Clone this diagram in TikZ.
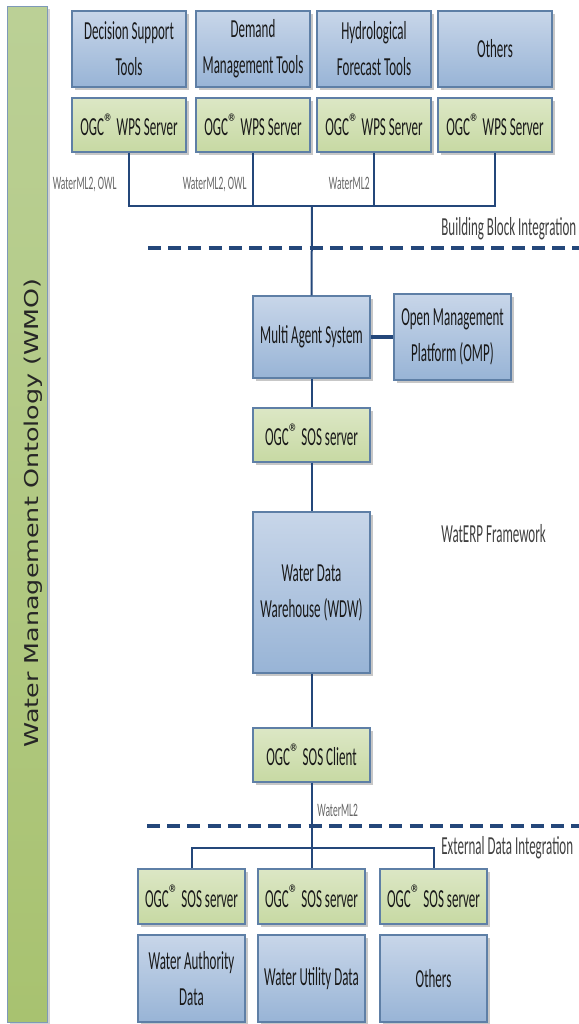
\documentclass[tikz,border=0pt]{standalone}
\usepackage{fontspec}
\setmainfont{Carlito}[FakeStretch=0.5]
\newfontfamily\barfont{DejaVu Sans}
\usetikzlibrary{shadows}
\definecolor{edge}{HTML}{5E7FA6}
\definecolor{bluetop}{HTML}{C8D6E9}
\definecolor{bluebot}{HTML}{98B4D6}
\definecolor{greentop}{HTML}{DCE7C5}
\definecolor{greenbot}{HTML}{C7D9A3}
\definecolor{bartop}{HTML}{BBD096}
\definecolor{barbot}{HTML}{A8C270}
\definecolor{wire}{HTML}{24477A}
\tikzset{
  shade box/.style={draw=edge,line width=.6pt,align=center,inner sep=1pt,
    font=\fontsize{13}{18}\selectfont,text=black!90,
    drop shadow={shadow xshift=1.6pt,shadow yshift=-1.6pt,fill=black,opacity=.22}},
  bluebox/.style={shade box,top color=bluetop,bottom color=bluebot},
  greenbox/.style={shade box,top color=greentop,bottom color=greenbot},
  wirelink/.style={draw=wire,line width=1pt},
  tier/.style={draw=wire,line width=1.6pt,dash pattern=on 6.5pt off 3.6pt},
  fmtlabel/.style={font=\fontsize{9.5}{11}\selectfont,text=black!60,inner sep=1pt},
  tierlabel/.style={font=\fontsize{13}{15}\selectfont,text=black!75,anchor=west,inner sep=0pt}
}
\newcommand{\ogcmark}{OGC\raisebox{.45ex}{\fontsize{12}{12}\selectfont\scalebox{1.6}[1]{®}}}

\begin{document}
\begin{tikzpicture}[x=0.5pt,y=-0.5pt]
  \useasboundingbox (0,0) rectangle (579,1024);
  % ontology bar
  \draw[draw=edge!80,line width=.5pt,top color=bartop,bottom color=barbot,
    drop shadow={shadow xshift=1.6pt,shadow yshift=-1.6pt,fill=black,opacity=.18}]
    (7,6) rectangle (47,1022);
  \node[rotate=90,font=\barfont\fontsize{12.7}{14}\selectfont,text=black!85] (wmo) at (33,513)
    {\scalebox{1}[.75]{Water Management Ontology (WMO)}};
  % building blocks
  \foreach \i/\cx/\tool/\srv in {1/129/{Decision Support\\Tools}/{\ogcmark{}  WPS Server},
      2/253/{Demand\\Management Tools}/{\ogcmark{} WPS Server},
      3/374/{Hydrological\\Forecast Tools}/{\ogcmark{}  WPS Server},
      4/495/{Others}/{\ogcmark{}  WPS Server}} {
    \node[bluebox,minimum width=57pt,minimum height=38pt] (t\i) at (\cx,49) {\tool};
    \node[greenbox,minimum width=57pt,minimum height=27pt] (w\i) at (\cx,125) {\srv};
  }
  \coordinate (topbus) at (312,206);
  \draw[wirelink] (w1.south) |- (topbus) -| (w4.south);
  \draw[wirelink] (w2.south) -- (w2.south |- topbus);
  \draw[wirelink] (w3.south) -- (w3.south |- topbus);
  \node[fmtlabel,anchor=east] (f1) at (119,185) {WaterML2, OWL};
  \node[fmtlabel,anchor=east] (f2) at (249,185) {WaterML2, OWL};
  \node[fmtlabel,anchor=east] (f3) at (372,183) {WaterML2};
  \node[tierlabel] (bbi) at (441,229) {Building Block Integration};
  \coordinate (d1a) at (148,248); \coordinate (d1b) at (579,248);
  \draw[tier] (d1a) -- (d1b);
  % framework core
  \node[bluebox,minimum width=58.5pt,minimum height=41pt] (mas) at (311.5,337) {Multi Agent System};
  \node[bluebox,minimum width=58.5pt,minimum height=43pt] (omp) at (452.5,337) {Open Management\\Platform (OMP)};
  \node[greenbox,minimum width=58.5pt,minimum height=27pt] (sosa) at (311.5,435) {\ogcmark{} SOS server};
  \node[bluebox,minimum width=58.5pt,minimum height=80.5pt] (wdw) at (311.5,592.5) {Water Data\\Warehouse (WDW)};
  \node[greenbox,minimum width=58.5pt,minimum height=27pt] (sosc) at (311.5,755) {\ogcmark{} SOS Client};
  \node[tierlabel] (erp) at (441,534) {WatERP Framework};
  \draw[wirelink] (topbus) -- (mas.north);
  \draw[draw=wire,line width=1.6pt] (mas.east) -- (omp.west);
  \draw[wirelink] (mas.south) -- (sosa.north);
  \draw[wirelink] (sosa.south) -- (wdw.north);
  \draw[wirelink] (wdw.south) -- (sosc.north);
  % external data
  \node[fmtlabel,anchor=west] (f4) at (315,810) {WaterML2};
  \coordinate (d2a) at (147,826); \coordinate (d2b) at (579,826);
  \draw[tier] (d2a) -- (d2b);
  \node[tierlabel] (edi) at (441,848) {External Data Integration};
  \foreach \i/\cx/\src in {1/191.5/{Water Authority\\Data},2/311.5/{Water Utility Data},3/433.5/{Others}} {
    \node[greenbox,minimum width=53.5pt,minimum height=27.5pt] (s\i) at (\cx,896.5) {\ogcmark{} SOS server};
    \node[bluebox,minimum width=53.5pt,minimum height=43.5pt] (d\i) at (\cx,978.5) {\src};
  }
  \coordinate (lowbus) at (312,848);
  \draw[wirelink] (sosc.south) -- (s2.north);
  \draw[wirelink] (s1.north) |- (lowbus) -| (s3.north);
\end{tikzpicture}
\end{document}
